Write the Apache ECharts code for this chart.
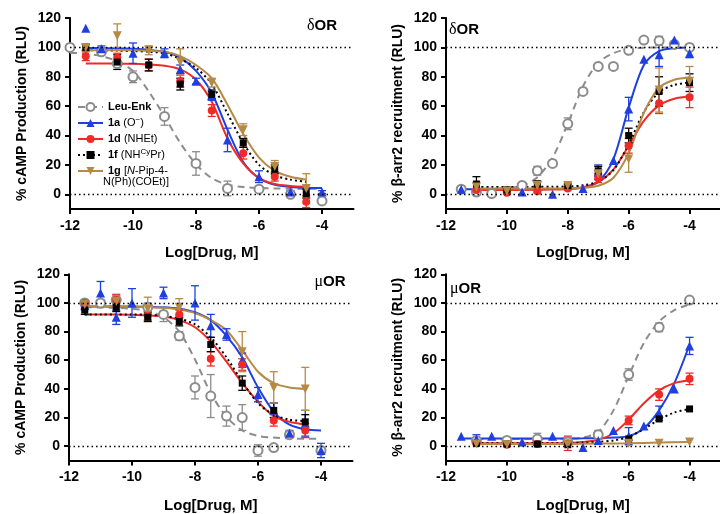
<!DOCTYPE html>
<html><head><meta charset="utf-8">
<script src="https://cdn.jsdelivr.net/npm/echarts@6/dist/echarts.min.js"></script>
<style>html,body{margin:0;padding:0;background:#fff}#c{width:720px;height:514px}</style>
</head><body><div id="c"></div>
<script>
// ---- tick labels / categories ----
const xTicks = [-12, -10, -8, -6, -4];
const yTicks = [0, 20, 40, 60, 80, 100, 120];
const seriesNames = ['Leu-Enk', '1a', '1d', '1f', '1g'];
const yTitles = ['% cAMP Production (RLU)', '% β-arr2 recruitment (RLU)', '% cAMP Production (RLU)', '% β-arr2 recruitment (RLU)'];
const xTitle = 'Log[Drug, M]';
const panelLabels = ['δOR', 'δOR', 'μOR', 'μOR'];

// ---- Panel A: δOR cAMP  points [logDose, mean, err] ----
const A_leu_pts = [[-12,100,2],[-11,97,2],[-10.5,89,2],[-10,80,4],[-9,53,6],[-8,21,8],[-7,4,5],[-6,3.5,2],[-5,0,1],[-4,-4.5,2]];
const A_1a_pts = [[-11.5,113,0],[-11,99,2],[-10,96,7],[-9,96,3],[-8.5,85,3],[-8,77,2],[-7.5,67,3],[-7,37,8],[-6,12,4],[-5,1.5,1],[-4,1.5,1]];
const A_1d_pts = [[-11.5,94,3],[-10.5,93,3],[-9.5,88,4],[-8.5,77,4],[-7.5,57,4],[-6.5,28,4],[-5.5,12,3],[-4.5,-5,4]];
const A_1f_pts = [[-11.5,100,2],[-10.5,90,5],[-9.5,88,4],[-8.5,75,4],[-7.5,68,3],[-6.5,35,3],[-5.5,17,3],[-4.5,0.5,3]];
const A_1g_pts = [[-11.5,100,2],[-10.5,108,8],[-9.5,98,3],[-8.5,90,9],[-7.5,76,3],[-6.5,44,4],[-5.5,19,4],[-4.5,4,10]];
// fitted curves [logDose, value]
const A_leu_fit = [[-12,96.4],[-11.5,95.7],[-11,94],[-10.5,90.5],[-10,84],[-9.5,70],[-9,53],[-8.5,35],[-8,20.5],[-7.5,11],[-7,6.5],[-6.5,5],[-6,4.3],[-5.5,4],[-5,3.8],[-4.5,3.7],[-4,3.7]];
const A_1a_fit = [[-11.5,99.6],[-11,99.5],[-10.5,99.4],[-10,99],[-9.5,98.3],[-9,97],[-8.5,93],[-8,84],[-7.5,69],[-7,44],[-6.5,22],[-6,11],[-5.5,6.5],[-5,5],[-4.5,4.5],[-4,4.3]];
const A_1d_fit = [[-11.5,89],[-11,89],[-10.5,88.9],[-10,88.8],[-9.5,88.3],[-9,87.5],[-8.5,85],[-8,78],[-7.5,63],[-7,38],[-6.5,21],[-6,11],[-5.5,7],[-5,5.7],[-4.5,5.2]];
const A_1f_fit = [[-11.5,98],[-11,98],[-10.5,97.8],[-10,97.5],[-9.5,97],[-9,96],[-8.5,92],[-8,86],[-7.5,75],[-7,55],[-6.5,35],[-6,20],[-5.5,13],[-5,10],[-4.5,8.5]];
const A_1g_fit = [[-11.5,98],[-11,98],[-10.5,98],[-10,98],[-9.5,97.6],[-9,97],[-8.5,94],[-8,88],[-7.5,79],[-7,61],[-6.5,41],[-6,25],[-5.5,16],[-5,12],[-4.5,10]];

// ---- Panel B: δOR β-arr2 ----
const B_leu_pts = [[-11.5,3.5,0],[-11,1.5,1],[-10.5,0.5,1],[-9.5,6,1],[-9,16,3],[-8.5,21,1],[-8,48,4],[-7.5,70,2],[-7,87,2],[-6.5,87,1],[-6,98,2],[-5.5,105,1],[-5,104.5,3],[-4.5,102,1],[-4,100,2]];
const B_1a_pts = [[-11.5,3.5,0],[-9.5,1.5,0],[-8.5,0,0],[-7.5,4,0],[-7,15,5],[-6.5,23,0],[-6,58,8],[-5.5,92,0],[-5,95,8],[-4.5,105,0],[-4,96,3]];
const B_1d_pts = [[-11,3,1],[-10,1,1],[-9,2,1],[-8,4,1],[-7,11,3],[-6,33,5],[-5,62,7],[-4,66,7]];
const B_1f_pts = [[-11,7,5],[-10,3,1],[-9,7,2],[-8,6,1],[-7,16,3],[-6,40,5],[-5,70,10],[-4,76,6]];
const B_1g_pts = [[-11,5,3],[-10,2,1],[-9,6,2],[-8,6,1],[-7,14,2],[-6,24,9],[-5,71,15],[-4,77,10]];
const B_leu_fit = [[-11.5,3.5],[-11,3.6],[-10.5,3.8],[-10,4.3],[-9.5,6],[-9,11.6],[-8.5,25],[-8,48],[-7.5,73.5],[-7,89.5],[-6.5,96],[-6,99],[-5.5,99.7],[-5,100],[-4.5,100],[-4,100]];
const B_1a_fit = [[-11.5,3.5],[-11,3.5],[-10.5,3.5],[-10,3.5],[-9.5,3.5],[-9,3.5],[-8.5,3.6],[-8,3.8],[-7.5,4.7],[-7,8.5],[-6.5,24],[-6,59],[-5.5,88],[-5,97.5],[-4.5,99.5],[-4,100]];
const B_1d_fit = [[-11,3],[-10.5,3],[-10,3],[-9.5,3],[-9,3.1],[-8.5,3.2],[-8,3.6],[-7.5,4.8],[-7,8.2],[-6.5,17],[-6,33],[-5.5,50],[-5,60.5],[-4.5,65],[-4,66.5]];
const B_1f_fit = [[-11,5],[-10.5,5],[-10,5],[-9.5,5],[-9,5.1],[-8.5,5.2],[-8,5.3],[-7.5,6.1],[-7,8.7],[-6.5,16.5],[-6,34],[-5.5,56],[-5,69.5],[-4.5,74.5],[-4,76]];
const B_1g_fit = [[-11,4],[-10.5,4],[-10,4],[-9.5,4],[-9,4],[-8.5,4],[-8,4.1],[-7.5,4.4],[-7,5.8],[-6.5,11.3],[-6,28],[-5.5,55.5],[-5,72.5],[-4.5,78],[-4,79.5]];

// ---- Panel C: μOR cAMP ----
const C_leu_pts = [[-11.5,100,2],[-11,100,2],[-10.5,102,3],[-9.5,97,3],[-9,92,5],[-8.5,77,3],[-8,41,8],[-7.5,35,15],[-7,21,7],[-6.5,20,9],[-6,-3,4],[-5.5,-1,2],[-5,8,2],[-4,-3,2]];
const C_1a_pts = [[-11.5,98,2],[-11,107,8],[-10.5,90,5],[-10,100,10],[-9,107,4],[-8,100,12],[-7.5,84,8],[-7,78,4],[-6.5,60,5],[-6,36,5],[-5.5,25,5],[-5,9,2],[-4.5,16,9],[-4,-3,5]];
const C_1d_pts = [[-11.5,100,2],[-10.5,102,4],[-9.5,91,3],[-8.5,92,3],[-7.5,61,5],[-6.5,57,4],[-5.5,18,4],[-4.5,11,5]];
const C_1f_pts = [[-11.5,95,3],[-10.5,97,3],[-9.5,90,3],[-8.5,87,3],[-7.5,71,5],[-6.5,44,5],[-5.5,25,5],[-4.5,17,5]];
const C_1g_pts = [[-11.5,99,2],[-10.5,101,4],[-9.5,96,8],[-8.5,97,6],[-6.5,66,14],[-5.5,41,11],[-4.5,40,15]];
const C_leu_fit = [[-11.5,97],[-11,96.8],[-10.5,96.5],[-10,96],[-9.5,94.4],[-9,90],[-8.5,80],[-8,60.5],[-7.5,37],[-7,20.5],[-6.5,11],[-6,7.2],[-5.5,6],[-5,5.4],[-4.5,5.2],[-4,5.1]];
const C_1a_fit = [[-11.5,97.5],[-11,97.5],[-10.5,97.5],[-10,97.5],[-9.5,97.3],[-9,97],[-8.5,96],[-8,93.5],[-7.5,88],[-7,77],[-6.5,62],[-6,41],[-5.5,24],[-5,15],[-4.5,11.8],[-4,11]];
const C_1d_fit = [[-11.5,92],[-11,92],[-10.5,92],[-10,91.8],[-9.5,91.4],[-9,90.5],[-8.5,88],[-8,83],[-7.5,73],[-7,59],[-6.5,44],[-6,31],[-5.5,21],[-5,17],[-4.5,15]];
const C_1f_fit = [[-11.5,92],[-11,92],[-10.5,92],[-10,92],[-9.5,91.7],[-9,91],[-8.5,89],[-8,85],[-7.5,76],[-7,62],[-6.5,45],[-6,30],[-5.5,22],[-5,18.5],[-4.5,17.5]];
const C_1g_fit = [[-11.5,97.5],[-11,97.5],[-10.5,97.4],[-10,97.3],[-9.5,97],[-9,96.5],[-8.5,95.5],[-8,93],[-7.5,88],[-7,81],[-6.5,67],[-6,52],[-5.5,44],[-5,41],[-4.5,40]];

// ---- Panel D: μOR β-arr2 ----
const D_leu_pts = [[-11,4,1],[-10,4,1],[-9,5,4],[-8,3,1],[-7,8,3],[-6,50,4],[-5,83,3],[-4,102,1]];
const D_1a_pts = [[-11.5,7,0],[-11,5,3],[-10.5,7,0],[-9.5,3,0],[-8.5,7,0],[-7.5,-1,0],[-7,4,0],[-6.5,11,0],[-6,7,6],[-5.5,14,0],[-5,23,5],[-4.5,40,0],[-4,70,6]];
const D_1d_pts = [[-11,2,1],[-10,1,1],[-9,1.5,1],[-8,2,5],[-6,18,3],[-5,36,4],[-4,47,4]];
const D_1f_pts = [[-11,2,0],[-10,1.5,0],[-9,1.5,0],[-8,1,0],[-6,5,0],[-5,19,0],[-4,26,0]];
const D_1g_pts = [[-11,1.5,0],[-10,1,0],[-8,1,0],[-6,2,0],[-5,2,0],[-4,3,0]];
const D_leu_fit = [[-11,5],[-10.5,5],[-10,5],[-9.5,5],[-9,5],[-8.5,5.1],[-8,5.2],[-7.5,6],[-7,10],[-6.5,25],[-6,49],[-5.5,72],[-5,87],[-4.5,95],[-4,99]];
const D_1a_fit = [[-11.5,5.3],[-11,5.3],[-10.5,5.3],[-10,5.3],[-9.5,5.3],[-9,5.3],[-8.5,5.3],[-8,5.4],[-7.5,5.5],[-7,5.7],[-6.5,6],[-6,7],[-5.5,12.5],[-5,25],[-4.5,44],[-4,71]];
const D_1d_fit = [[-11,2],[-10.5,2],[-10,2],[-9.5,2],[-9,2],[-8.5,2.1],[-8,2.3],[-7.5,3],[-7,4.5],[-6.5,9],[-6,18.5],[-5.5,30],[-5,39],[-4.5,44],[-4,46]];
const D_1f_fit = [[-11,2],[-10.5,2],[-10,2],[-9.5,2],[-9,2],[-8.5,2.1],[-8,2.2],[-7.5,2.5],[-7,3],[-6.5,4],[-6,6.5],[-5.5,12],[-5,18.5],[-4.5,23.5],[-4,26]];
const D_1g_fit = [[-11,1.5],[-10,1.5],[-9,1.5],[-8,1.6],[-7,1.8],[-6,2],[-5,2.5],[-4,3]];

// ---- assembly ----
const panelPts = [
  [A_leu_pts, A_1a_pts, A_1d_pts, A_1f_pts, A_1g_pts],
  [B_leu_pts, B_1a_pts, B_1d_pts, B_1f_pts, B_1g_pts],
  [C_leu_pts, C_1a_pts, C_1d_pts, C_1f_pts, C_1g_pts],
  [D_leu_pts, D_1a_pts, D_1d_pts, D_1f_pts, D_1g_pts]
];
const panelFits = [
  [A_leu_fit, A_1a_fit, A_1d_fit, A_1f_fit, A_1g_fit],
  [B_leu_fit, B_1a_fit, B_1d_fit, B_1f_fit, B_1g_fit],
  [C_leu_fit, C_1a_fit, C_1d_fit, C_1f_fit, C_1g_fit],
  [D_leu_fit, D_1a_fit, D_1d_fit, D_1f_fit, D_1g_fit]
];

const FONT = '"Liberation Sans", Arial, Helvetica, sans-serif';
const styles = [
  {color: '#8c8c8c', symbol: 'emptyCircle', size: 9, rotate: 0, line: [7, 5], lw: 2},
  {color: '#1f3fe0', symbol: 'triangle', size: 9, rotate: 0, line: 'solid', lw: 2},
  {color: '#f02a26', symbol: 'circle', size: 8, rotate: 0, line: 'solid', lw: 2},
  {color: '#000000', symbol: 'rect', size: 7, rotate: 0, line: [2, 3], lw: 2},
  {color: '#b68a45', symbol: 'triangle', size: 9, rotate: 180, line: 'solid', lw: 2}
];
const grids = [
  {left: 70, top: 18, width: 283.5, height: 191},
  {left: 446, top: 18, width: 283.5, height: 191},
  {left: 69, top: 274.3, width: 283.5, height: 190},
  {left: 446, top: 274.3, width: 283.5, height: 190}
];
const nameGapsX = [36, 36, 37.5, 37.5];

function errRender(params, api) {
  const x = api.value(0), y = api.value(1), e = api.value(2);
  if (!e) return null;
  const p1 = api.coord([x, y + e]), p2 = api.coord([x, y - e]);
  const st = {stroke: api.visual('color'), lineWidth: 1.3, fill: null};
  const hw = 4;
  return {type: 'group', children: [
    {type: 'line', shape: {x1: p1[0], y1: p1[1], x2: p2[0], y2: p2[1]}, style: st},
    {type: 'line', shape: {x1: p1[0] - hw, y1: p1[1], x2: p1[0] + hw, y2: p1[1]}, style: st},
    {type: 'line', shape: {x1: p2[0] - hw, y1: p2[1], x2: p2[0] + hw, y2: p2[1]}, style: st}
  ]};
}

const xAxes = [], yAxes = [], series = [];
grids.forEach((g, i) => {
  xAxes.push({
    type: 'value', gridIndex: i, min: -12, max: -3,
    name: xTitle, nameLocation: 'middle', nameGap: nameGapsX[i],
    nameTextStyle: {fontFamily: FONT, fontSize: 15, fontWeight: 'bold', color: '#000'},
    axisLine: {show: true, onZero: false, lineStyle: {color: '#000', width: 2}},
    axisTick: {show: true, length: 5, lineStyle: {color: '#000', width: 2}, customValues: xTicks},
    axisLabel: {customValues: xTicks, fontFamily: FONT, fontSize: 14, fontWeight: 'bold', color: '#000', margin: 10},
    splitLine: {show: false}
  });
  yAxes.push({
    type: 'value', gridIndex: i, min: -10, max: 120,
    name: yTitles[i], nameLocation: 'middle', nameGap: 41,
    nameTextStyle: {fontFamily: FONT, fontSize: 14, fontWeight: 'bold', color: '#000'},
    axisLine: {show: true, onZero: false, lineStyle: {color: '#000', width: 2}},
    axisTick: {show: true, length: 5, lineStyle: {color: '#000', width: 2}, customValues: yTicks},
    axisLabel: {customValues: yTicks, fontFamily: FONT, fontSize: 14, fontWeight: 'bold', color: '#000', margin: 9},
    splitLine: {show: false}
  });
  // fitted curves (carry legend identity)
  panelFits[i].forEach((fit, k) => {
    const s = styles[k];
    const ser = {
      type: 'line', name: seriesNames[k], xAxisIndex: i, yAxisIndex: i,
      data: fit, smooth: 0.3,
      symbol: s.symbol, symbolRotate: s.rotate, symbolSize: s.size, showSymbol: false,
      lineStyle: {color: s.color, width: s.lw, type: s.line},
      itemStyle: {color: s.color, borderWidth: s.symbol === 'emptyCircle' ? 2 : 0},
      silent: true, z: 2
    };
    if (k === 0) {
      ser.markLine = {
        silent: true, symbol: ['none', 'none'], label: {show: false},
        lineStyle: {color: '#000', width: 1.4, type: [1.5, 3]},
        data: [{yAxis: 0}, {yAxis: 100}]
      };
    }
    series.push(ser);
  });
  // error bars
  panelPts[i].forEach((pts, k) => {
    series.push({
      type: 'custom', name: seriesNames[k] + ' err ' + i, xAxisIndex: i, yAxisIndex: i,
      data: pts, encode: {x: 0, y: 1}, renderItem: errRender,
      itemStyle: {color: styles[k].color}, silent: true, z: 3
    });
  });
  // data points
  panelPts[i].forEach((pts, k) => {
    const s = styles[k];
    series.push({
      type: 'scatter', name: seriesNames[k] + ' pts ' + i, xAxisIndex: i, yAxisIndex: i,
      data: pts.map(p => [p[0], p[1]]),
      symbol: s.symbol, symbolRotate: s.rotate, symbolSize: s.size,
      itemStyle: {color: s.color, borderColor: s.color, borderWidth: s.symbol === 'emptyCircle' ? 2 : 0, opacity: 1},
      silent: true, z: 4
    });
  });
});

const legendFmt = {
  'Leu-Enk': '{b|Leu-Enk}',
  '1a': '{b|1a} {n|(O}{sup|−}{n|)}',
  '1d': '{b|1d} {n|(NHEt)}',
  '1f': '{b|1f} {n|(NH}{sup|Cy}{n|Pr)}',
  '1g': '{b|1g} {n|[}{i|N}{n|-Pip-4-}'
};

const labelPos = [
  {x: 322, y: 26, align: 'center'},
  {x: 449, y: 30, align: 'left'},
  {x: 330, y: 282, align: 'center'},
  {x: 450, y: 289, align: 'left'}
];
const graphics = panelLabels.map((t, i) => ({
  type: 'text', silent: true,
  style: {
    x: labelPos[i].x, y: labelPos[i].y, align: labelPos[i].align, verticalAlign: 'middle',
    text: '{g|' + t.charAt(0) + '}{b|' + t.slice(1) + '}',
    rich: {
      g: {fontFamily: '"Liberation Serif", "DejaVu Serif", serif', fontSize: 16, fill: '#000'},
      b: {fontFamily: FONT, fontSize: 15, fontWeight: 'bold', fill: '#000'}
    }
  }
}));
graphics.push({
  type: 'text', silent: true,
  style: {x: 103, y: 182, verticalAlign: 'middle', text: 'N(Ph)(COEt)]',
    font: '11px "Liberation Sans", Arial, sans-serif', fill: '#000'}
});

const chart = echarts.init(document.getElementById('c'), null, {renderer: 'canvas'});
chart.setOption({
  animation: false,
  backgroundColor: '#fff',
  grid: grids,
  xAxis: xAxes,
  yAxis: yAxes,
  legend: {
    orient: 'vertical', left: 72, top: 95, itemWidth: 25, itemHeight: 10, itemGap: 2,
    selectedMode: false, data: seriesNames,
    formatter: name => legendFmt[name],
    textStyle: {
      fontFamily: FONT, fontSize: 11, color: '#000', lineHeight: 14,
      rich: {
        b: {fontFamily: FONT, fontSize: 11, fontWeight: 'bold', color: '#000', lineHeight: 14},
        n: {fontFamily: FONT, fontSize: 11, color: '#000', lineHeight: 14},
        i: {fontFamily: FONT, fontSize: 11, fontStyle: 'italic', color: '#000', lineHeight: 14},
        sup: {fontFamily: FONT, fontSize: 8, color: '#000', lineHeight: 14, verticalAlign: 'top'}
      }
    }
  },
  graphic: graphics,
  series: series
});
</script></body></html>
